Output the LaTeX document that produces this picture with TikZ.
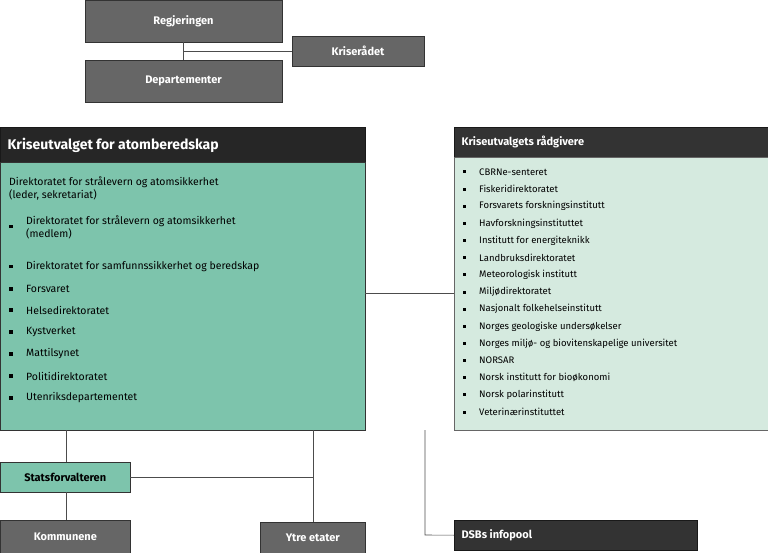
\documentclass[tikz,border=0pt]{standalone}
\usepackage{fontspec}
\setmainfont{Fira Sans}
\begin{document}
\begin{tikzpicture}[x=1pt,y=-1pt,
 gbox/.style={draw=black!80,fill=black!60,text=white,font=\bfseries\fontsize{11}{13}\selectfont,line width=0.8pt},
 dbox/.style={draw=black!90,fill=black!80,text=white,font=\bfseries\fontsize{11}{13}\selectfont},
 ln/.style={draw=black!70,line width=0.6pt},
 item/.style={anchor=west,font=\fontsize{10.5}{13}\selectfont,align=left,inner sep=0},
 sitem/.style={anchor=west,font=\fontsize{9.5}{11}\selectfont,inner sep=0}]
\useasboundingbox (0,0) rectangle (768,553);
\node[gbox,minimum width=197,minimum height=42] (reg) at (183.5,21) {Regjeringen};
\node[gbox,minimum width=132,minimum height=30] (kr) at (358,51) {Kriserådet};
\node[gbox,minimum width=197,minimum height=42] (dep) at (183.5,81) {Departementer};
\draw[ln] (reg.south) -- (dep.north);
\coordinate (j) at (183.5,51);
\draw[ln] (j) -- (kr.west);
\node[draw=black!90,fill=black!85,text=white,font=\bfseries\fontsize{14}{16}\selectfont,minimum width=365,minimum height=35,anchor=north west,inner sep=0] (kh) at (0,127) {};
\node[anchor=west,text=white,font=\bfseries\fontsize{14}{16}\selectfont] at (4,145) {Kriseutvalget for atomberedskap};
\node[draw=black!80,fill={rgb,255:red,125;green,196;blue,172},minimum width=365,minimum height=268,anchor=north west,inner sep=0] (kb) at (0,162) {};
\node[item] at (9,188) {Direktoratet for strålevern og atomsikkerhet\\(leder, sekretariat)};
\foreach \y/\t in {227/{Direktoratet for strålevern og atomsikkerhet\\(medlem)},267/Direktoratet for samfunnssikkerhet og beredskap,289/Forsvaret,310/Helsedirektoratet,332/Kystverket,354/Mattilsynet,376/Politidirektoratet,398/Utenriksdepartementet}{
 \fill (9,{\y-2}) rectangle (12.5,{\y+1.5});
 \node[item] at (26,\y) {\t};}
\fill[fill=black!5] (454,127) rectangle (768,157);
\node[dbox,minimum width=314,minimum height=30,anchor=north west,inner sep=0] (rh) at (454,127) {};
\node[anchor=west,text=white,font=\bfseries\fontsize{11}{13}\selectfont] at (458,142) {Kriseutvalgets rådgivere};
\node[draw=black!60,fill={rgb,255:red,213;green,234;blue,223},minimum width=314,minimum height=273,anchor=north west,inner sep=0] (rb) at (454,157) {};
\foreach \t [count=\i from 0] in {CBRNe-senteret,Fiskeridirektoratet,Forsvarets forskningsinstitutt,Havforskningsinstituttet,Institutt for energiteknikk,Landbruksdirektoratet,Meteorologisk institutt,Miljødirektoratet,Nasjonalt folkehelseinstitutt,Norges geologiske undersøkelser,Norges miljø- og biovitenskapelige universitet,NORSAR,Norsk institutt for bioøkonomi,Norsk polarinstitutt,Veterinærinstituttet}{
 \pgfmathsetmacro\yy{172+17.15*\i}
 \fill (463,{\yy-1.5}) rectangle (466,{\yy+1.5});
 \node[sitem] at (479,\yy) {\t};}
\draw[ln] (365,293) -- (454,293);
\node[draw=black!80,fill={rgb,255:red,125;green,196;blue,172},font=\bfseries\fontsize{11}{13}\selectfont,minimum width=130,minimum height=30,anchor=north west,inner sep=0] (sf) at (0,462) {Statsforvalteren};
\node[gbox,minimum width=130,minimum height=33,anchor=north west,inner sep=0] (kom) at (0,520) {Kommunene};
\node[gbox,minimum width=105,minimum height=31,anchor=north west,inner sep=0] (ye) at (260,522) {Ytre etater};
\node[dbox,minimum width=243,minimum height=30,anchor=north west,inner sep=0] (dsb) at (454,520) {};
\node[anchor=west,text=white,font=\bfseries\fontsize{11}{13}\selectfont] at (458,535) {DSBs infopool};
\draw[ln] (66,430) -- (66,462);
\draw[ln] (66,492) -- (66,520);
\draw[ln] (313,430) -- (313,522);
\draw[ln] (130,477) -- (313,477);
\draw[ln] (425,430) -- (425,535) -- (dsb.west);
\end{tikzpicture}
\end{document}
